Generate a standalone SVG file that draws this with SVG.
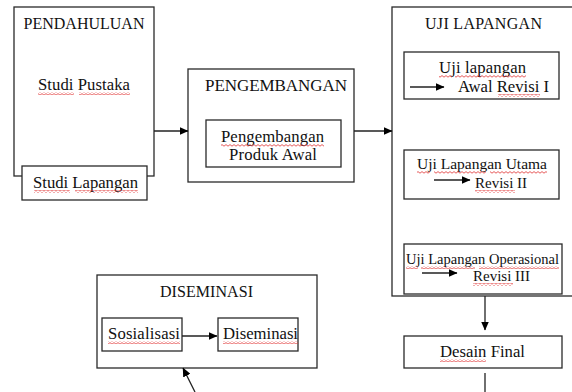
<svg xmlns="http://www.w3.org/2000/svg" width="572" height="392" viewBox="0 0 572 392">
<defs>
<style>
.box{fill:#fff;stroke:#2a2a2a;stroke-width:1.3}
.t{font-family:"Liberation Serif","Times New Roman",serif;font-size:16.7px;fill:#111}
.c{text-anchor:middle}
.cap{font-size:16px}
.ln{stroke:#222;stroke-width:1.3;fill:none}
.sq{fill:url(#wave)}
</style>
<pattern id="wave" width="4" height="3" patternUnits="userSpaceOnUse">
<path d="M0 2.2 L2 0.6 L4 2.2" fill="none" stroke="#e03030" stroke-width="0.8"/>
</pattern>
<marker id="ah" markerWidth="9" markerHeight="8" refX="8.5" refY="4" orient="auto" markerUnits="userSpaceOnUse">
<path d="M0 0 L9 4 L0 8 Z" fill="#000"/>
</marker>
</defs>
<rect width="572" height="392" fill="#fff"/>

<g id="pendahuluan">
<rect class="box" x="14" y="7" width="140" height="169"/>
<text class="t c cap" x="84" y="29">PENDAHULUAN</text>
<text class="t c" x="84" y="90" textLength="92">Studi Pustaka</text>
<rect class="sq" x="38" y="92" width="36" height="3"/>
<rect class="sq" x="79" y="92" width="51" height="3"/>
</g>
<g id="studi-lapangan">
<rect class="box" x="22" y="166" width="125" height="34"/>
<text class="t c" x="85.5" y="188" textLength="105">Studi Lapangan</text>
<rect class="sq" x="34" y="190" width="36" height="3"/>
<rect class="sq" x="75" y="190" width="63" height="3"/>
</g>

<g id="pengembangan">
<rect class="box" x="188" y="69" width="166" height="113"/>
<text class="t c" x="276" y="91" style="font-size:17px" textLength="142">PENGEMBANGAN</text>
</g>
<g id="produk-awal">
<rect class="box" x="206" y="120" width="135" height="47"/>
<text class="t c" x="272.5" y="142" textLength="103">Pengembangan</text>
<rect class="sq" x="221" y="144" width="103" height="3"/>
<text class="t c" x="273" y="160" textLength="88">Produk Awal</text>
</g>

<g id="uji-lapangan">
<rect class="box" x="392" y="7" width="200" height="289"/>
<text class="t c cap" x="483.5" y="29" textLength="117">UJI LAPANGAN</text>
</g>
<g id="uji-awal">
<rect class="box" x="404" y="52" width="155" height="47"/>
<text class="t c" x="482.5" y="73" textLength="87">Uji lapangan</text>
<rect class="sq" x="439" y="75" width="13" height="3"/>
<rect class="sq" x="455" y="75" width="71" height="3"/>
<text class="t" x="458" y="92" textLength="91">Awal Revisi I</text>
<rect class="sq" x="498" y="94" width="42" height="3"/>
</g>
<g id="uji-utama">
<rect class="box" x="404" y="150" width="155" height="49"/>
<text class="t c" x="482" y="169" style="font-size:15.5px" textLength="130">Uji Lapangan Utama</text>
<rect class="sq" x="417" y="171" width="13" height="3"/>
<rect class="sq" x="434" y="171" width="52" height="3"/>
<rect class="sq" x="490" y="171" width="57" height="3"/>
<text class="t" x="475" y="188" style="font-size:15px" textLength="52">Revisi II</text>
<rect class="sq" x="475" y="190" width="40" height="3"/>
</g>
<g id="uji-operasional">
<rect class="box" x="404" y="244" width="158" height="50"/>
<text class="t c" x="482.5" y="264" style="font-size:14.5px" textLength="153">Uji Lapangan Operasional</text>
<rect class="sq" x="406" y="266" width="12" height="3"/>
<rect class="sq" x="421" y="266" width="54" height="3"/>
<rect class="sq" x="479" y="266" width="80" height="3"/>
<text class="t" x="473" y="281" style="font-size:15px" textLength="57">Revisi III</text>
<rect class="sq" x="473" y="283" width="40" height="3"/>
</g>

<g id="desain-final">
<rect class="box" x="404" y="336" width="158" height="32"/>
<text class="t c" x="482.5" y="357" textLength="85">Desain Final</text>
<rect class="sq" x="440" y="359" width="46" height="3"/>
</g>

<g id="diseminasi-group">
<rect class="box" x="97" y="275" width="220" height="93"/>
<text class="t c cap" x="206.5" y="297" textLength="93">DISEMINASI</text>
</g>
<g id="sosialisasi">
<rect class="box" x="102" y="318" width="80" height="33"/>
<text class="t c" x="144" y="339" textLength="72">Sosialisasi</text>
<rect class="sq" x="108" y="341" width="72" height="3"/>
</g>
<g id="diseminasi">
<rect class="box" x="218" y="318" width="80" height="33"/>
<text class="t c" x="260.5" y="339" textLength="75">Diseminasi</text>
<rect class="sq" x="223" y="341" width="75" height="3"/>
</g>

<g id="connectors">
<line class="ln" x1="154" y1="131" x2="188" y2="131" marker-end="url(#ah)"/>
<line class="ln" x1="354" y1="131" x2="392" y2="131" marker-end="url(#ah)"/>
<line class="ln" x1="410" y1="87" x2="444" y2="87" marker-end="url(#ah)"/>
<line class="ln" x1="434" y1="180" x2="470" y2="180" marker-end="url(#ah)"/>
<line class="ln" x1="422" y1="273" x2="457" y2="273" marker-end="url(#ah)"/>
<line class="ln" x1="485" y1="296" x2="485" y2="330" marker-end="url(#ah)"/>
<line class="ln" x1="485" y1="373" x2="485" y2="392"/>
<line class="ln" x1="182" y1="336" x2="217" y2="336" marker-end="url(#ah)"/>
<line class="ln" x1="195" y1="392" x2="183" y2="368" marker-end="url(#ah)"/>
</g>
</svg>
